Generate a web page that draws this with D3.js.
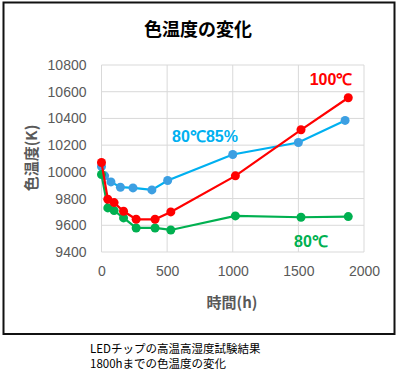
<!DOCTYPE html>
<html><head><meta charset="utf-8">
<script src="https://cdn.jsdelivr.net/npm/d3@7"></script>
<style>
body{margin:0;background:#fff;}
svg{display:block;}
</style></head>
<body>
<svg id="chart" width="400" height="380"></svg>
<script>
const title = "色温度の変化";
const xLabel = "時間(h)";
const yLabel = "色温度(K)";
const caption = ["LEDチップの高温高湿度試験結果", "1800hまでの色温度の変化"];
const xTicks = [0, 500, 1000, 1500, 2000];
const yTicks = [9400, 9600, 9800, 10000, 10200, 10400, 10600, 10800];

const hours100 = [0, 48, 96, 168, 264, 408, 528, 1020, 1520, 1880];
const temp100 = [10070, 9795, 9770, 9705, 9645, 9645, 9700, 9970, 10315, 10555];
const hours80 = [0, 48, 96, 168, 264, 408, 528, 1020, 1520, 1880];
const temp80 = [9980, 9730, 9710, 9655, 9580, 9580, 9565, 9670, 9660, 9665];
const hours8085 = [0, 24, 72, 144, 240, 384, 504, 1000, 1500, 1856];
const temp8085 = [10040, 9970, 9925, 9885, 9880, 9865, 9935, 10130, 10220, 10385];

const seriesNames = ["80℃85%", "80℃", "100℃"];
const series = [
  {name: seriesNames[0], xs: hours8085, ys: temp8085, line: "#00B0F0", marker: "#3C9FE2", label: [205, 142]},
  {name: seriesNames[1], xs: hours80, ys: temp80, line: "#00B050", marker: "#00B050", label: [311, 247]},
  {name: seriesNames[2], xs: hours100, ys: temp100, line: "#FF0000", marker: "#FF0000", label: [331, 85]}
];

const svg = d3.select("#chart");
const pLeft = 101.5, pRight = 364, pTop = 65, pBottom = 252;
const x = d3.scaleLinear().domain([0, 2000]).range([pLeft, pRight]);
const y = d3.scaleLinear().domain([9400, 10800]).range([pBottom, pTop]);

// outer frame
svg.append("rect").attr("x", 3.5).attr("y", 2.5).attr("width", 391).attr("height", 331.5)
  .attr("fill", "#fff").attr("stroke", "#111").attr("stroke-width", 2);

// title
svg.append("text").attr("x", 198).attr("y", 36).attr("text-anchor", "middle")
  .attr("font-family", "'Noto Sans CJK JP'").attr("font-weight", "bold").attr("font-size", 18)
  .attr("fill", "#000").text(title);

// grid
const g = svg.append("g");
g.selectAll(".hg").data(yTicks).join("line")
  .attr("x1", pLeft).attr("x2", pRight).attr("y1", d => y(d)).attr("y2", d => y(d))
  .attr("stroke", "#D9D9D9").attr("stroke-width", 1);
g.selectAll(".vg").data(xTicks).join("line")
  .attr("x1", d => x(d)).attr("x2", d => x(d)).attr("y1", pTop).attr("y2", pBottom)
  .attr("stroke", "#D9D9D9").attr("stroke-width", 1);

// axes (labels only)
const yAxis = svg.append("g").attr("transform", `translate(${pLeft},0)`)
  .call(d3.axisLeft(y).tickValues(yTicks).tickSize(0).tickPadding(15).tickFormat(d3.format("d")));
yAxis.select(".domain").remove();
yAxis.selectAll("text").attr("font-family", "'Liberation Sans', Arial, sans-serif").attr("font-size", 14).attr("fill", "#595959");

const xAxis = svg.append("g").attr("transform", `translate(0,${pBottom})`)
  .call(d3.axisBottom(x).tickValues(xTicks).tickSize(0).tickPadding(14).tickFormat(d3.format("d")));
xAxis.select(".domain").remove();
xAxis.selectAll("text").attr("font-family", "'Liberation Sans', Arial, sans-serif").attr("font-size", 14).attr("fill", "#595959");

// axis titles
svg.append("text").attr("x", 232).attr("y", 308).attr("text-anchor", "middle")
  .attr("font-family", "'Noto Sans CJK JP'").attr("font-weight", "bold").attr("font-size", 15)
  .attr("fill", "#595959").text(xLabel);
svg.append("text").attr("transform", "translate(37,158) rotate(-90)").attr("text-anchor", "middle")
  .attr("font-family", "'Noto Sans CJK JP'").attr("font-weight", "bold").attr("font-size", 15)
  .attr("fill", "#595959").text(yLabel);

// series
const line = d3.line().x(d => x(d[0])).y(d => y(d[1]));
series.forEach(s => {
  const pts = s.xs.map((v, i) => [v, s.ys[i]]);
  svg.append("path").datum(pts).attr("d", line).attr("fill", "none")
    .attr("stroke", s.line).attr("stroke-width", 2.2);
  svg.append("g").selectAll("circle").data(pts).join("circle")
    .attr("cx", d => x(d[0])).attr("cy", d => y(d[1])).attr("r", 4.5)
    .attr("fill", s.marker);
});
series.forEach(s => {
  svg.append("text").attr("x", s.label[0]).attr("y", s.label[1]).attr("text-anchor", "middle")
    .attr("font-family", "'Liberation Sans', Arial, sans-serif").attr("font-weight", "bold")
    .attr("font-size", 16).attr("fill", s.line).text(s.name);
});

// caption
svg.append("g").selectAll("text").data(caption).join("text")
  .attr("x", 90).attr("y", (d, i) => 353 + i * 15)
  .attr("font-family", "'Noto Sans CJK JP'").attr("font-size", 11.5).attr("fill", "#000")
  .text(d => d);
</script>
</body></html>
